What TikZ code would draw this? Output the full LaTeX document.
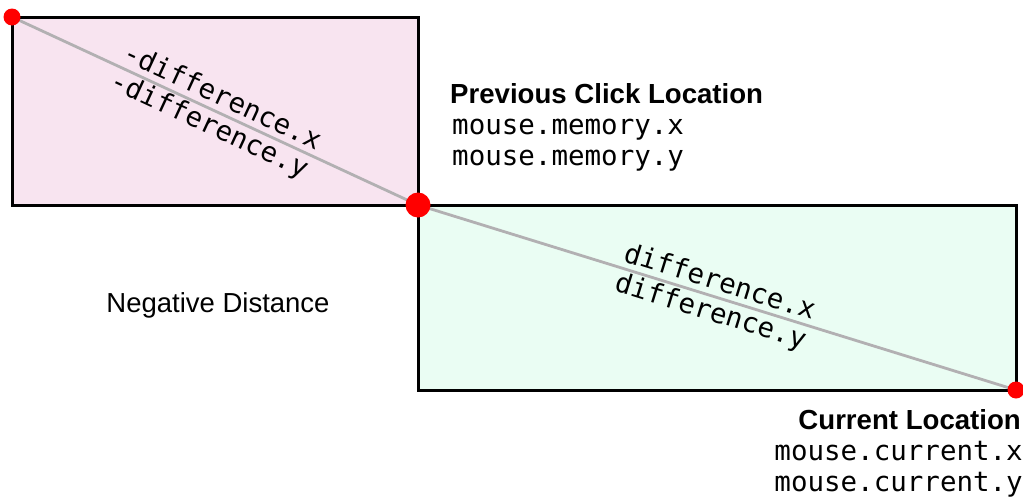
\documentclass[tikz,border=0pt]{standalone}
\usepackage{fontspec}
\setmainfont{Liberation Sans}
\newfontfamily\monof{DejaVu Sans Mono}
\definecolor{pinkfill}{RGB}{248,228,240}
\definecolor{greenfill}{RGB}{234,253,243}
\definecolor{diag}{RGB}{178,176,178}
\begin{document}
\begin{tikzpicture}[x=1pt,y=-1pt,
  box/.style={draw=black,line width=3pt,inner sep=0pt,outer sep=0pt},
  dot/.style={circle,fill=red,inner sep=0pt,minimum size=#1},
  diagline/.style={draw=diag,line width=2.8pt},
  title/.style={font=\fontsize{27.6}{32}\selectfont\bfseries,inner sep=0pt},
  plain/.style={font=\fontsize{27.5}{32}\selectfont,inner sep=0pt},
  code/.style={font=\monof\fontsize{27.5}{31}\selectfont,inner sep=0pt},
  difflabel/.style={font=\monof\fontsize{27.5}{31}\selectfont,inner sep=0pt,align=center}]
\useasboundingbox (0,0) rectangle (1023,498);
\node[box,fill=pinkfill,minimum width=406pt,minimum height=188pt] (pinkbox) at (215,111) {};
\node[box,fill=greenfill,minimum width=598pt,minimum height=185pt] (greenbox) at (717,297.5) {};
\coordinate (p1) at (12,17);
\coordinate (p2) at (418,205);
\coordinate (p3) at (1016,390);
\draw[diagline] (p1) -- (p2) -- (p3);
\node[dot=17pt] (d1) at (p1) {};
\node[dot=25pt] (d2) at (p2) {};
\node[dot=17pt] (d3) at (p3) {};
\node[difflabel,rotate=-24.84] (negdiff) at (216,112) {-difference.x\\-difference.y};
\node[difflabel,rotate=-17.19] (posdiff) at (715,298) {difference.x\\difference.y};
\node[title,anchor=base west] (prevt) at (450,103) {Previous Click Location};
\node[code,anchor=base west] (memx) at (452,134) {mouse.memory.x};
\node[code,anchor=base west] (memy) at (452,165) {mouse.memory.y};
\node[plain,anchor=base] (negd) at (218,312) {Negative Distance};
\node[title,anchor=base east] (curt) at (1021,429) {Current Location};
\node[code,anchor=base east] (curx) at (1023,460) {mouse.current.x};
\node[code,anchor=base east] (cury) at (1023,491) {mouse.current.y};
\end{tikzpicture}
\end{document}
